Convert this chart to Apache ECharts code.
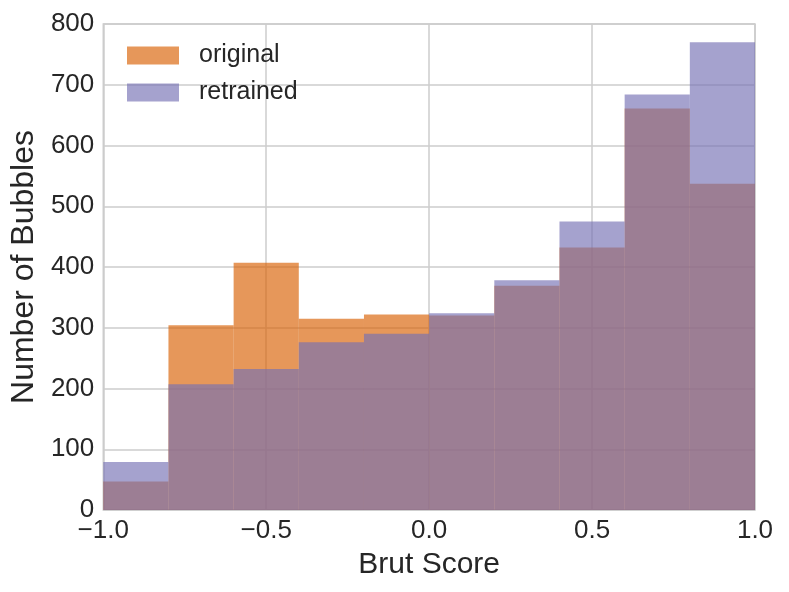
<!DOCTYPE html>
<html>
<head>
<meta charset="utf-8">
<script src="https://cdn.jsdelivr.net/npm/echarts@6/dist/echarts.min.js"></script>
<style>
html,body{margin:0;padding:0;background:#fff;}
#chart{width:789px;height:592px;}
</style>
</head>
<body>
<div id="chart"></div>
<script>
// Histogram bins (left edges), bin width 0.2
const binStarts = [-1.0, -0.8, -0.6, -0.4, -0.2, 0.0, 0.2, 0.4, 0.6, 0.8];
const binWidth = 0.2;
const originalCounts = [47, 304, 407, 315, 322, 320, 369, 432, 661, 537];
const retrainedCounts = [79, 207, 232, 276, 290, 324, 378, 475, 684, 770];
const xTicks = [-1.0, -0.5, 0.0, 0.5, 1.0];
const seriesNames = ['original', 'retrained'];
const seriesColors = ['#d95f02', '#7570b3'];

const FONT = 'Liberation Sans, Arial, Helvetica, sans-serif';

function histData(counts) {
  return binStarts.map((s, i) => [s, s + binWidth, counts[i]]);
}

function renderBin(params, api) {
  const x0 = api.value(0), x1 = api.value(1), y = api.value(2);
  const p0 = api.coord([x0, y]);
  const p1 = api.coord([x1, 0]);
  return {
    type: 'rect',
    shape: { x: p0[0], y: p0[1], width: p1[0] - p0[0], height: p1[1] - p0[1] },
    style: { fill: api.visual('color'), opacity: 0.65 }
  };
}

const chart = echarts.init(document.getElementById('chart'), null, { renderer: 'canvas' });
chart.setOption({
  animation: false,
  backgroundColor: '#ffffff',
  textStyle: { fontFamily: FONT },
  grid: {
    left: 103, right: 34, top: 24, bottom: 82,
    show: true, borderColor: '#cccccc', borderWidth: 1.5, backgroundColor: 'transparent'
  },
  legend: {
    orient: 'vertical',
    left: 122, top: 38,
    itemWidth: 52, itemHeight: 18, itemGap: 12,
    icon: 'rect',
    textStyle: { fontSize: 25, color: '#262626', fontFamily: FONT, padding: [0, 0, 0, 15] },
    data: seriesNames.map((n, i) => ({ name: n, itemStyle: { color: seriesColors[i], opacity: 0.65 } }))
  },
  xAxis: {
    type: 'value',
    min: -1, max: 1, interval: 0.5,
    name: 'Brut Score', nameLocation: 'middle', nameGap: 40,
    nameTextStyle: { fontSize: 30, color: '#262626', fontFamily: FONT },
    axisLine: { show: false },
    axisTick: { show: false },
    axisLabel: {
      fontSize: 26, color: '#262626', margin: 8, fontFamily: FONT,
      formatter: v => (v < 0 ? '\u2212' : '') + Math.abs(v).toFixed(1)
    },
    splitLine: { show: true, lineStyle: { color: '#cccccc', width: 1.5 } }
  },
  yAxis: {
    type: 'value',
    min: 0, max: 800, interval: 100,
    name: 'Number of Bubbles', nameLocation: 'middle', nameGap: 58,
    nameTextStyle: { fontSize: 32, color: '#262626', fontFamily: FONT },
    axisLine: { show: false },
    axisTick: { show: false },
    axisLabel: { fontSize: 26, color: '#262626', margin: 9, fontFamily: FONT },
    splitLine: { show: true, lineStyle: { color: '#cccccc', width: 1.5 } }
  },
  series: [
    { name: seriesNames[0], type: 'custom', renderItem: renderBin, itemStyle: { color: seriesColors[0] },
      encode: { x: [0, 1], y: 2 }, data: histData(originalCounts), z: 2 },
    { name: seriesNames[1], type: 'custom', renderItem: renderBin, itemStyle: { color: seriesColors[1] },
      encode: { x: [0, 1], y: 2 }, data: histData(retrainedCounts), z: 3 }
  ]
});
</script>
</body>
</html>
